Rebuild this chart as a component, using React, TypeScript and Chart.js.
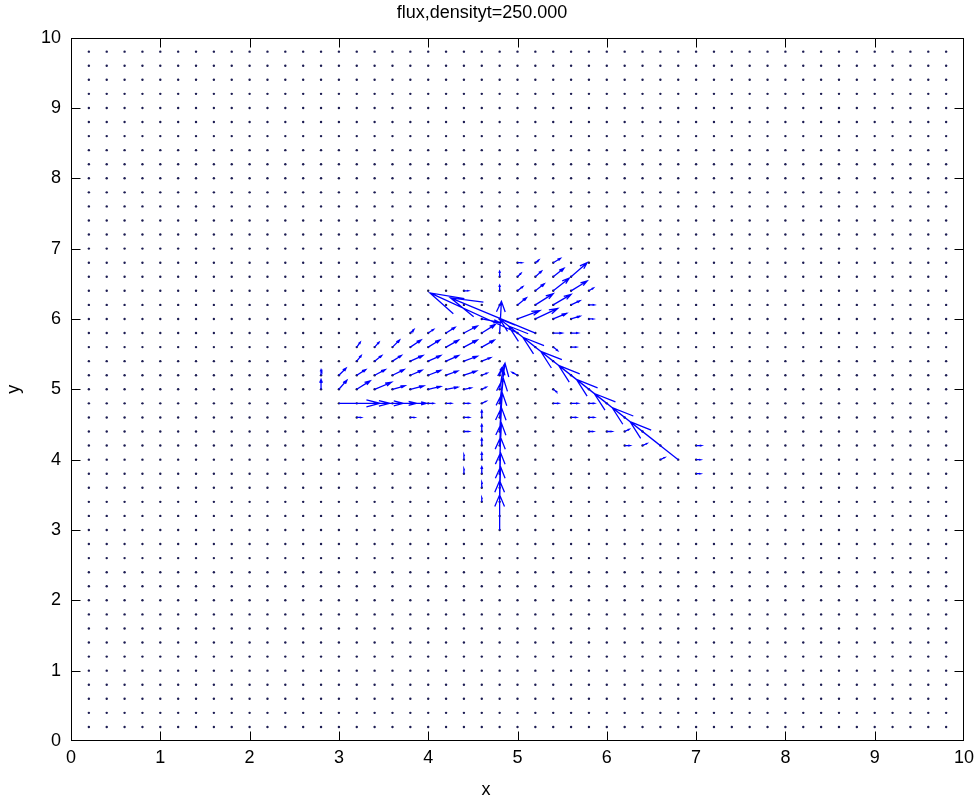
import React, { useEffect, useRef } from 'react';
import { Chart, registerables } from 'chart.js';

Chart.register(...registerables);

// ---------- text ----------
const TITLE = 'flux,densityt=250.000';
const X_LABEL = 'x';
const Y_LABEL = 'y';

// ---------- axes ----------
const AXIS_MIN = 0;
const AXIS_MAX = 10;
const TICK_VALUES = [0, 1, 2, 3, 4, 5, 6, 7, 8, 9, 10];

// ---------- quiver sampling grid ----------
const GRID_X = [
  0.2, 0.4, 0.6, 0.8, 1.0, 1.2, 1.4, 1.6, 1.8, 2.0, 2.2, 2.4, 2.6, 2.8, 3.0, 3.2, 3.4,
  3.6, 3.8, 4.0, 4.2, 4.4, 4.6, 4.8, 5.0, 5.2, 5.4, 5.6, 5.8, 6.0, 6.2, 6.4, 6.6, 6.8,
  7.0, 7.2, 7.4, 7.6, 7.8, 8.0, 8.2, 8.4, 8.6, 8.8, 9.0, 9.2, 9.4, 9.6, 9.8,
];
const GRID_Y = [
  0.2, 0.4, 0.6, 0.8, 1.0, 1.2, 1.4, 1.6, 1.8, 2.0, 2.2, 2.4, 2.6, 2.8, 3.0, 3.2, 3.4,
  3.6, 3.8, 4.0, 4.2, 4.4, 4.6, 4.8, 5.0, 5.2, 5.4, 5.6, 5.8, 6.0, 6.2, 6.4, 6.6, 6.8,
  7.0, 7.2, 7.4, 7.6, 7.8, 8.0, 8.2, 8.4, 8.6, 8.8, 9.0, 9.2, 9.4, 9.6, 9.8,
];

// ---------- non-zero flux vectors [x, y, u, v] (displayed length) ----------
const ROW_48_LEFT: number[][] = [
  [3.0, 4.8, 0.46, 0], [3.2, 4.8, 0.37, 0], [3.4, 4.8, 0.32, 0], [3.6, 4.8, 0.27, 0],
  [3.8, 4.8, 0.18, 0], [4.0, 4.8, 0.06, 0], [4.2, 4.8, 0.06, 0], [4.4, 4.8, 0.06, 0],
  [4.6, 4.8, 0.05, 0.03],
];

const SOURCE_28: number[][] = [
  [2.8, 5.0, 0, 0.14], [2.8, 5.2, 0, 0.08],
];

const FAN_LOWER: number[][] = [
  [3.0, 5.0, 0.09, 0.13], [3.2, 5.0, 0.15, 0.12], [3.4, 5.0, 0.19, 0.1], [3.6, 5.0, 0.14, 0.05],
  [3.8, 5.0, 0.15, 0.05], [4.0, 5.0, 0.14, 0.04], [4.2, 5.0, 0.13, 0.03], [4.4, 5.0, 0.08, 0.02],
  [4.6, 5.0, 0.05, 0.03],
  [3.0, 5.2, 0.08, 0.1], [3.2, 5.2, 0.1, 0.08], [3.4, 5.2, 0.12, 0.08], [3.6, 5.2, 0.13, 0.08],
  [3.8, 5.2, 0.13, 0.07], [4.0, 5.2, 0.14, 0.07], [4.2, 5.2, 0.13, 0.06], [4.4, 5.2, 0.14, 0.06],
  [4.6, 5.2, 0.06, 0.03],
  [3.2, 5.4, 0.05, 0.08], [3.4, 5.4, 0.08, 0.08], [3.6, 5.4, 0.1, 0.08], [3.8, 5.4, 0.14, 0.08],
  [4.0, 5.4, 0.14, 0.08], [4.2, 5.4, 0.14, 0.08], [4.4, 5.4, 0.15, 0.07], [4.6, 5.4, 0.1, 0.05],
  [3.2, 5.6, 0.04, 0.07], [3.4, 5.6, 0.05, 0.07], [3.6, 5.6, 0.08, 0.1], [3.8, 5.6, 0.12, 0.1],
  [4.0, 5.6, 0.13, 0.1], [4.2, 5.6, 0.14, 0.1], [4.4, 5.6, 0.15, 0.1], [4.6, 5.6, 0.14, 0.1],
  [3.8, 5.8, 0.04, 0.05], [4.0, 5.8, 0.06, 0.05], [4.2, 5.8, 0.1, 0.08], [4.4, 5.8, 0.15, 0.1],
  [4.6, 5.8, 0.15, 0.12],
];

const DIAGONAL: number[][] = [
  [6.8, 4.0, -0.54, 0.54], [6.6, 4.2, -0.54, 0.54], [6.4, 4.4, -0.54, 0.54],
  [6.2, 4.6, -0.54, 0.54], [6.0, 4.8, -0.54, 0.54], [5.8, 5.0, -0.54, 0.54],
  [5.6, 5.2, -0.54, 0.54], [5.4, 5.4, -0.5, 0.5], [5.2, 5.6, -0.4, 0.4],
  [5.0, 5.8, -0.98, 0.57], [5.2, 5.8, -0.95, 0.5],
];

const CENTER: number[][] = [
  [4.8, 5.8, 0.02, 0.45], [4.6, 6.0, 0.2, -0.05], [4.8, 6.4, 0, 0.08], [4.8, 6.6, 0, 0.08],
  [4.4, 6.4, 0.05, 0],
];

const FAN_UPPER: number[][] = [
  [5.0, 6.0, 0.25, 0.12], [5.2, 6.0, 0.25, 0.15], [5.4, 6.0, 0.15, 0.08], [5.6, 6.0, 0.1, 0.04],
  [5.8, 6.0, 0.05, 0],
  [5.0, 6.2, 0.1, 0.1], [5.2, 6.2, 0.2, 0.16], [5.4, 6.2, 0.2, 0.15], [5.6, 6.2, 0.1, 0.06],
  [5.8, 6.2, 0.06, 0],
  [5.0, 6.4, 0.06, 0.06], [5.2, 6.4, 0.1, 0.1], [5.4, 6.4, 0.18, 0.18], [5.6, 6.4, 0.18, 0.14],
  [5.8, 6.4, 0.05, 0.04],
  [5.0, 6.6, 0.04, 0.05], [5.2, 6.6, 0.07, 0.08], [5.4, 6.6, 0.12, 0.12], [5.6, 6.6, 0.18, 0.2],
  [5.0, 6.8, 0.05, 0], [5.2, 6.8, 0.04, 0.04], [5.4, 6.8, 0.08, 0.06],
  [5.4, 5.8, 0.1, 0], [5.6, 5.8, 0.08, 0],
];

const RIGHT_SMALL: number[][] = [
  [5.4, 5.6, 0.05, -0.05], [5.6, 5.6, 0.06, 0], [5.0, 5.2, -0.06, 0.04], [5.4, 5.0, 0.04, -0.04],
  [5.4, 4.8, 0.06, 0], [5.6, 4.8, 0.08, 0], [5.8, 4.8, 0.06, 0],
  [5.6, 4.6, 0.06, 0], [5.8, 4.6, 0.06, 0],
  [5.8, 4.4, 0.05, 0], [6.0, 4.4, 0.06, 0], [6.2, 4.4, 0.05, 0.03],
  [6.2, 4.2, 0.06, 0], [6.4, 4.2, 0.05, 0.03], [7.0, 4.2, 0.06, 0],
  [6.6, 4.0, 0.05, 0.03], [7.0, 4.0, 0.05, 0], [7.0, 3.8, 0.05, 0],
];

const COLUMN_48: number[][] = [
  [4.8, 3.0, 0, 0.5], [4.8, 3.2, 0, 0.5], [4.8, 3.4, 0.01, 0.5], [4.8, 3.6, 0.01, 0.5],
  [4.8, 3.8, 0.01, 0.52], [4.8, 4.0, 0.02, 0.52], [4.8, 4.2, 0.02, 0.54], [4.8, 4.4, 0.03, 0.55],
  [4.8, 4.6, 0.04, 0.56], [4.8, 4.8, 0.06, 0.57], [4.8, 5.0, 0.04, 0.3], [4.8, 5.2, 0.02, 0.1],
];

const COLUMNS_LEFT: number[][] = [
  [4.6, 3.4, 0, 0.06], [4.6, 3.6, 0, 0.08], [4.6, 3.8, 0, 0.1], [4.6, 4.0, 0, 0.1],
  [4.6, 4.2, 0, 0.1], [4.6, 4.4, 0, 0.1], [4.6, 4.6, 0, 0.1],
  [4.4, 4.6, 0.06, 0], [4.4, 4.4, 0.06, 0], [4.4, 4.0, 0, 0.07], [4.4, 3.8, 0, 0.07],
  [3.2, 4.6, 0.05, 0], [3.8, 4.6, 0.05, 0],
];

const ALL_VECTORS = [
  ...ROW_48_LEFT, ...SOURCE_28, ...FAN_LOWER, ...DIAGONAL, ...CENTER,
  ...FAN_UPPER, ...RIGHT_SMALL, ...COLUMN_48, ...COLUMNS_LEFT,
];

// quiver arrow head geometry (MATLAB style)
const HEAD_ALPHA = 0.33;
const HEAD_BETA = 0.33;

function buildArrowPath(vectors: number[][]) {
  const pts: { x: number; y: number | null }[] = [];
  for (const [x, y, u, v] of vectors) {
    const tx = x + u;
    const ty = y + v;
    pts.push({ x, y }, { x: tx, y: ty }, { x: tx, y: null });
    pts.push(
      { x: tx - HEAD_ALPHA * (u + HEAD_BETA * v), y: ty - HEAD_ALPHA * (v - HEAD_BETA * u) },
      { x: tx, y: ty },
      { x: tx - HEAD_ALPHA * (u - HEAD_BETA * v), y: ty - HEAD_ALPHA * (v + HEAD_BETA * u) },
      { x: tx, y: null },
    );
  }
  return pts;
}

function buildGrid() {
  const pts: { x: number; y: number }[] = [];
  for (const gx of GRID_X) for (const gy of GRID_Y) pts.push({ x: gx, y: gy });
  return pts;
}

const FONT = '"Liberation Sans", Arial, Helvetica, sans-serif';

const framePlugin = {
  id: 'matlabFrame',
  afterDraw(chart: any) {
    const { ctx, chartArea, scales } = chart;
    const { left, right, top, bottom } = chartArea;
    ctx.save();
    ctx.strokeStyle = '#000';
    ctx.lineWidth = 1;
    const L = Math.round(left) + 0.5;
    const R = Math.round(right) - 0.5;
    const T = Math.round(top) + 0.5;
    const B = Math.round(bottom) - 0.5;
    ctx.strokeRect(L, T, R - L, B - T);
    const tickLen = 9;
    ctx.beginPath();
    for (const v of TICK_VALUES) {
      if (v === AXIS_MIN || v === AXIS_MAX) continue;
      const px = Math.round(scales.x.getPixelForValue(v)) + 0.5;
      ctx.moveTo(px, B); ctx.lineTo(px, B - tickLen);
      ctx.moveTo(px, T); ctx.lineTo(px, T + tickLen);
      const py = Math.round(scales.y.getPixelForValue(v)) + 0.5;
      ctx.moveTo(L, py); ctx.lineTo(L + tickLen, py);
      ctx.moveTo(R, py); ctx.lineTo(R - tickLen, py);
    }
    ctx.stroke();
    // x label centred on the figure
    ctx.fillStyle = '#000';
    ctx.font = `18px ${FONT}`;
    ctx.textAlign = 'center';
    ctx.textBaseline = 'middle';
    ctx.fillText(X_LABEL, chart.width / 2 - 2, 790);
    ctx.restore();
  },
};

export default function App() {
  const canvasRef = useRef<HTMLCanvasElement | null>(null);

  useEffect(() => {
    if (!canvasRef.current) return;
    Chart.defaults.font.family = FONT;
    Chart.defaults.color = '#000';
    const chart = new Chart(canvasRef.current, {
      type: 'scatter',
      data: {
        datasets: [
          {
            type: 'line',
            label: 'flux',
            data: buildArrowPath(ALL_VECTORS) as any,
            borderColor: '#0000ff',
            borderWidth: 1.3,
            pointRadius: 0,
            showLine: true,
            spanGaps: false,
            fill: false,
            tension: 0,
          } as any,
          {
            label: 'grid',
            data: buildGrid(),
            pointRadius: 1.2,
            pointBackgroundColor: '#1c1c52',
            pointBorderWidth: 0,
            borderWidth: 0,
          },
        ],
      },
      options: {
        animation: false,
        responsive: false,
        events: [],
        layout: { padding: { left: 0, right: 12, top: 0, bottom: 0 } },
        plugins: {
          legend: { display: false },
          tooltip: { enabled: false },
          title: {
            display: true,
            text: TITLE,
            color: '#000',
            font: { size: 18, weight: 'normal', family: FONT },
            padding: { top: 2, bottom: 14 },
          },
        },
        scales: {
          x: {
            type: 'linear',
            min: AXIS_MIN,
            max: AXIS_MAX,
            grid: { display: false, drawTicks: false },
            border: { display: false },
            ticks: {
              stepSize: 1,
              autoSkip: false,
              maxRotation: 0,
              padding: 6,
              color: '#000',
              font: { size: 18, family: FONT },
            },
            afterFit: (s: any) => {
              s.height = 64;
              s.paddingLeft = 0;
              s.paddingRight = 0;
            },
          },
          y: {
            type: 'linear',
            min: AXIS_MIN,
            max: AXIS_MAX,
            grid: { display: false, drawTicks: false },
            border: { display: false },
            ticks: {
              stepSize: 1,
              autoSkip: false,
              padding: 10,
              color: '#000',
              font: { size: 18, family: FONT },
            },
            title: {
              display: true,
              text: Y_LABEL,
              color: '#000',
              font: { size: 18, family: FONT },
              padding: { top: 3, bottom: 0 },
            },
            afterFit: (s: any) => {
              s.width = 71;
              s.paddingTop = 0;
              s.paddingBottom = 0;
            },
          },
        },
      },
      plugins: [framePlugin],
    });
    return () => chart.destroy();
  }, []);

  return (
    <div style={{ position: 'fixed', left: 0, top: 0, width: 976, height: 805, background: '#fff' }}>
      <canvas ref={canvasRef} width={976} height={805} />
    </div>
  );
}
